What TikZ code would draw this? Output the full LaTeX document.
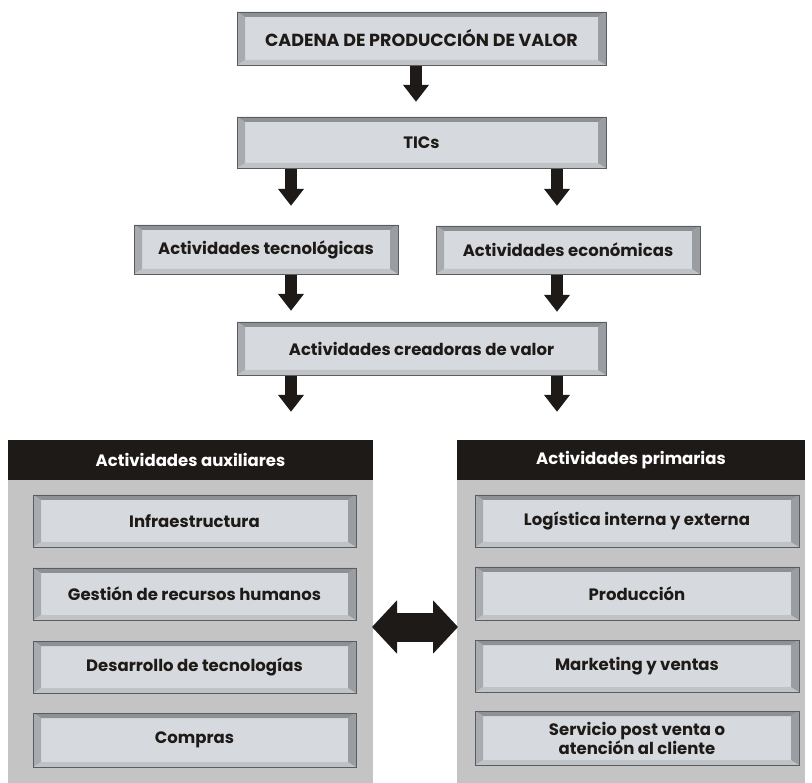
\documentclass[tikz,border=0pt]{standalone}
\usepackage{fontspec}
\setmainfont{Poppins}
\usetikzlibrary{arrows.meta}
\definecolor{face}{HTML}{D6D9DD}
\definecolor{bevT}{HTML}{8D9094}
\definecolor{bevL}{HTML}{A8ABAF}
\definecolor{bevR}{HTML}{9A9DA1}
\definecolor{bevB}{HTML}{C0C3C6}
\definecolor{edge}{HTML}{5A5C5F}
\definecolor{panel}{HTML}{C4C4C4}
\definecolor{ink}{HTML}{1E1A17}
\tikzset{
  label/.style={font=\bfseries\fontsize{16.5}{19}\selectfont, text=ink, align=center, inner sep=0pt},
  titlefont/.style={font=\bfseries\fontsize{17.5}{20}\selectfont},
  headtext/.style={font=\bfseries\fontsize{16.5}{19}\selectfont, text=white, fill=ink, inner sep=0pt},
  flowarrow/.style={draw=ink, line width=12pt, -{Triangle[width=25pt,length=17pt]}},
  bothways/.style={draw=ink, line width=29pt, {Triangle[width=52pt,length=25pt]}-{Triangle[width=52pt,length=25pt]}},
}
% bevelled box: name, x1, y1, x2, y2, text, extra style
\newcommand\bevbox[7][]{%
  \fill[face] (#3,#4) rectangle (#5,#6);
  \fill[bevT] (#3,#4) -- (#5,#4) -- (#5-8,#4+5) -- (#3+8,#4+5) -- cycle;
  \fill[bevB] (#3,#6) -- (#5,#6) -- (#5-8,#6-5) -- (#3+8,#6-5) -- cycle;
  \fill[bevL] (#3,#4) -- (#3+8,#4+5) -- (#3+8,#6-5) -- (#3,#6) -- cycle;
  \fill[bevR] (#5,#4) -- (#5-8,#4+5) -- (#5-8,#6-5) -- (#5,#6) -- cycle;
  \draw[edge, line width=0.8pt] (#3,#4) rectangle (#5,#6);
  \node[label, minimum width={(#5-#3)*1pt}, minimum height={(#6-#4)*1pt}, #1]
    (#2) at ({(#3+#5)/2},{(#4+#6)/2}) {#7};
}
\begin{document}
\begin{tikzpicture}[x=1pt,y=-1pt]
\useasboundingbox (0,0) rectangle (812,783);

% chain of boxes
\bevbox[titlefont]{cadena}{237}{12}{606}{65}{CADENA DE PRODUCCIÓN DE VALOR}
\bevbox{tics}{237}{117}{606}{168}{TICs}
\bevbox{tecno}{134}{225}{398}{274}{Actividades tecnológicas}
\bevbox{econ}{436}{226}{700}{274}{Actividades económicas}
\bevbox{crea}{237}{322}{606}{375}{Actividades creadoras de valor}

% panels with their dark headers
\fill[panel] (8,480) rectangle (373,783);
\node[headtext, minimum width=365pt, minimum height=40pt] (aux) at (190.5,460) {Actividades auxiliares};
\fill[panel] (457,480) rectangle (805,783);
\node[headtext, minimum width=348pt, minimum height=40pt] (prim) at (631,460) {Actividades primarias};

\bevbox{infra}{33}{495}{356}{547}{Infraestructura}
\bevbox{rrhh}{33}{568}{356}{620}{Gestión de recursos humanos}
\bevbox{desa}{33}{641}{356}{693}{Desarrollo de tecnologías}
\bevbox{comp}{33}{713}{356}{767}{Compras}

\bevbox{logi}{475}{495}{799}{547}{Logística interna y externa}
\bevbox{prod}{475}{567}{799}{620}{Producción}
\bevbox{mark}{475}{640}{799}{692}{Marketing y ventas}
\bevbox{serv}{475}{711}{799}{765}{Servicio post venta o\\atención al cliente}

% flow arrows
\coordinate (m) at (416,0);
\coordinate (l) at (291,0);
\coordinate (r) at (557,0);
\draw[flowarrow, shorten <=1pt, shorten >=15pt] (cadena.south -| m) -- (m |- tics.north);
\draw[flowarrow, shorten <=1pt, shorten >=19pt] (tics.south -| l) -- (l |- tecno.north);
\draw[flowarrow, shorten <=1pt, shorten >=20pt] (tics.south -| r) -- (r |- econ.north);
\draw[flowarrow, shorten <=1pt, shorten >=11pt] (tecno.south -| l) -- (l |- crea.north);
\draw[flowarrow, shorten <=1pt, shorten >=10pt] (econ.south -| r) -- (r |- crea.north);
\draw[flowarrow, shorten <=1pt, shorten >=28pt] (crea.south -| l) -- (l |- aux.north);
\draw[flowarrow, shorten <=1pt, shorten >=28pt] (crea.south -| r) -- (r |- prim.north);

% exchange between the two groups
\coordinate (la) at (372,627);
\coordinate (ra) at (458,627);
\draw[bothways] (la) -- (ra);
\end{tikzpicture}
\end{document}
